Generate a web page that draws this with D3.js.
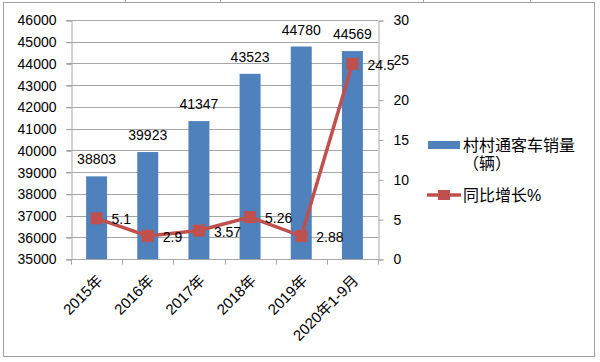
<!DOCTYPE html>
<html>
<head>
<meta charset="utf-8">
<script src="https://cdn.jsdelivr.net/npm/d3@7"></script>
<style>
  body { margin: 0; background: #fff; }
  text { font-family: "Liberation Sans", "Noto Sans CJK SC", sans-serif; fill: #000; }
</style>
</head>
<body>
<div id="chart"></div>
<script>
// values
var categories = ["2015年", "2016年", "2017年", "2018年", "2019年", "2020年1-9月"];
var sales = [38803, 39923, 41347, 43523, 44780, 44569];
var growth = [5.1, 2.9, 3.57, 5.26, 2.88, 24.5];
var leftTicks = [35000, 36000, 37000, 38000, 39000, 40000, 41000, 42000, 43000, 44000, 45000, 46000];
var rightTicks = [0, 5, 10, 15, 20, 25, 30];
var seriesNames = ["村村通客车销量", "（辆）", "同比增长%"];

var W = 600, H = 362;
var plot = { left: 71, right: 378, top: 20, bottom: 259 };
var barColor = "#4F81BD", lineColor = "#C0504D", gridColor = "#A6A6A6";

var svg = d3.select("#chart").append("svg")
    .attr("width", W)
    .attr("height", H);

// chart frame and the table cell lines above it
svg.append("rect")
    .attr("x", 3.5).attr("y", 2.5)
    .attr("width", 591).attr("height", 354)
    .attr("fill", "#fff").attr("stroke", "#A0A0A0");
[125, 220, 423, 530].forEach(function(x) {
    svg.append("line").attr("x1", x + 0.5).attr("x2", x + 0.5)
        .attr("y1", 0).attr("y2", 2.5).attr("stroke", "#A0A0A0");
});

var x = d3.scaleBand()
    .domain(categories)
    .range([plot.left, plot.right])
    .paddingInner(0.59)
    .paddingOuter(0.295);

var xBand = d3.scaleBand().domain(categories).range([plot.left, plot.right]);

var yLeft = d3.scaleLinear().domain([35000, 46000]).range([plot.bottom, plot.top]);
var yRight = d3.scaleLinear().domain([0, 30]).range([plot.bottom, plot.top]);

// gridlines
svg.append("g").selectAll("line")
    .data(leftTicks)
    .enter().append("line")
        .attr("x1", plot.left - 5).attr("x2", plot.right)
        .attr("y1", function(d) { return Math.round(yLeft(d)) + 0.5; })
        .attr("y2", function(d) { return Math.round(yLeft(d)) + 0.5; })
        .attr("stroke", gridColor);

// left axis
var axL = svg.append("g").attr("transform", "translate(" + (plot.left + 0.5) + ",0.5)")
    .call(d3.axisLeft(yLeft).tickValues(leftTicks).tickSize(5).tickPadding(10).tickFormat(d3.format("d")));
// right axis
var axR = svg.append("g").attr("transform", "translate(" + (plot.right + 0.5) + ",0.5)")
    .call(d3.axisRight(yRight).tickValues(rightTicks).tickSize(5).tickPadding(10));
[axL, axR].forEach(function(a) {
    a.select(".domain").attr("stroke", gridColor);
    a.selectAll(".tick line").attr("stroke", gridColor);
    a.selectAll(".tick text").style("font-size", "14px").attr("fill", "#000");
});

// bottom axis: ticks at category boundaries
var xAxisG = svg.append("g").attr("transform", "translate(0," + (plot.bottom + 0.5) + ")");
xAxisG.append("line").attr("x1", plot.left).attr("x2", plot.right + 0.5)
    .attr("stroke", gridColor);
xAxisG.selectAll(".bt")
    .data(categories.concat(["end"]))
    .enter().append("line")
        .attr("class", "bt")
        .attr("x1", function(d, i) { return Math.round(plot.left + i * xBand.bandwidth()) + 0.5; })
        .attr("x2", function(d, i) { return Math.round(plot.left + i * xBand.bandwidth()) + 0.5; })
        .attr("y1", 0).attr("y2", 5)
        .attr("stroke", gridColor);
xAxisG.selectAll(".xl")
    .data(categories)
    .enter().append("text")
        .attr("class", "xl")
        .attr("text-anchor", "end")
        .style("font-size", "15px")
        .attr("transform", function(d) {
            return "translate(" + (x(d) + x.bandwidth() / 2 + 7) + ",22) rotate(-45)";
        })
        .text(function(d) { return d; });

// bars
svg.append("g").selectAll("rect")
    .data(sales)
    .enter().append("rect")
        .attr("x", function(d, i) { return x(categories[i]); })
        .attr("y", function(d) { return yLeft(d); })
        .attr("width", x.bandwidth())
        .attr("height", function(d) { return yLeft(35000) - yLeft(d); })
        .attr("fill", barColor);

svg.append("g").selectAll("text")
    .data(sales)
    .enter().append("text")
        .attr("x", function(d, i) { return x(categories[i]) + x.bandwidth() / 2; })
        .attr("y", function(d) { return yLeft(d) - 12; })
        .attr("text-anchor", "middle")
        .style("font-size", "14px")
        .text(function(d) { return d; });

// growth line
var cx = function(i) { return x(categories[i]) + x.bandwidth() / 2; };
var line = d3.line()
    .x(function(d, i) { return cx(i); })
    .y(function(d) { return yRight(d); });

svg.append("path")
    .datum(growth)
    .attr("d", line)
    .attr("fill", "none")
    .attr("stroke", lineColor)
    .attr("stroke-width", 3.5);

var mk = 12;
svg.append("g").selectAll("rect")
    .data(growth)
    .enter().append("rect")
        .attr("x", function(d, i) { return cx(i) - mk / 2; })
        .attr("y", function(d) { return yRight(d) - mk / 2; })
        .attr("width", mk).attr("height", mk)
        .attr("fill", lineColor);

svg.append("g").selectAll("text")
    .data(growth)
    .enter().append("text")
        .attr("x", function(d, i) { return cx(i) + 15; })
        .attr("y", function(d) { return yRight(d) + 6; })
        .style("font-size", "14px")
        .text(function(d) { return d; });

// legend
var lg = svg.append("g");
lg.append("rect").attr("x", 428).attr("y", 141).attr("width", 32).attr("height", 8).attr("fill", barColor);
lg.append("text").attr("x", 463).attr("y", 151).style("font-size", "16px").text(seriesNames[0]);
lg.append("text").attr("x", 463).attr("y", 169).style("font-size", "16px").text(seriesNames[1]);
lg.append("line").attr("x1", 427).attr("x2", 461).attr("y1", 195).attr("y2", 195)
    .attr("stroke", lineColor).attr("stroke-width", 3.5);
lg.append("rect").attr("x", 438).attr("y", 190).attr("width", 12).attr("height", 10).attr("fill", lineColor);
lg.append("text").attr("x", 463).attr("y", 201).style("font-size", "16px").text(seriesNames[2]);
</script>
</body>
</html>
